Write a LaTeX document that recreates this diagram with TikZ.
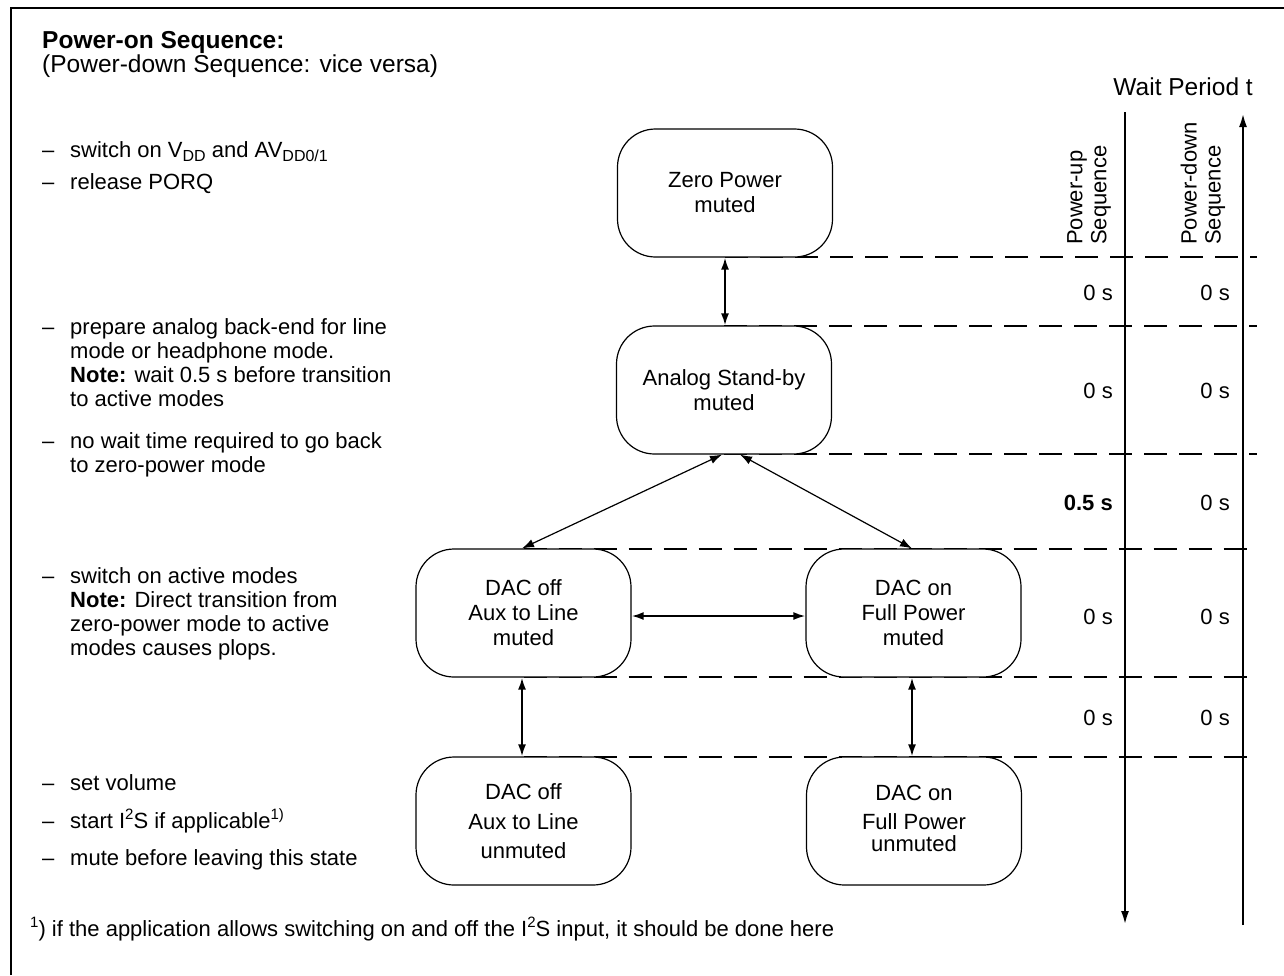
\documentclass[tikz,border=0pt]{standalone}
\usepackage{fontspec}
\setmainfont{Liberation Sans}
\usetikzlibrary{arrows.meta,calc}
\newcommand\sbs[1]{\raisebox{-4.5pt}{\fontsize{16}{16}\selectfont #1}}
\newcommand\sps[1]{\raisebox{8.5pt}{\fontsize{15}{15}\selectfont #1}}
\begin{document}
\begin{tikzpicture}[x=1pt,y=-1pt,
  box/.style={draw,line width=1.2pt,rounded corners=38pt,minimum width=215pt,minimum height=128pt,align=center,fill=white,inner sep=0pt,font=\fontsize{22}{25}\selectfont},
  lt/.style={anchor=base west,inner sep=0pt,font=\fontsize{22}{24}\selectfont},
  hd/.style={anchor=base west,inner sep=0pt,font=\fontsize{24.5}{27}\selectfont},
  dl/.style={dash pattern=on 23pt off 12pt,line width=1.2pt},
  tarr/.style={{Latex[length=12pt,width=8pt]}-{Latex[length=12pt,width=8pt]},line width=2pt},
  narr/.style={{Latex[length=12pt,width=8.5pt]}-{Latex[length=12pt,width=8.5pt]},line width=1.2pt},
  taxis/.style={line width=2.5pt,-{Latex[length=14pt,width=8pt]}},
  tv/.style={anchor=base east,inner sep=0pt,font=\fontsize{22}{24}\selectfont},
  rl/.style={rotate=90,anchor=west,align=left,inner sep=0pt,font=\fontsize{22}{24}\selectfont},
]
\useasboundingbox (0,0) rectangle (1284,975);
% frame (top and left)
\draw[line width=2pt] (11,975) -- (11,8) -- (1284,8);

% coordinates
\coordinate (R) at (1257,0);

% box centres
\path (725,193) coordinate (czp);
\path (724,390) coordinate (can);
\path (523.5,613) coordinate (coffm);
\path (913.5,613) coordinate (conm);
\path (523.5,821) coordinate (coffu);
\path (914,821) coordinate (conu);

% dashed level lines (drawn under boxes)
\path (czp) ++(0,64) coordinate (l1);
\path (can) ++(0,-64) coordinate (l2);
\path (can) ++(0,64) coordinate (l3);
\path (coffm) ++(0,-64) coordinate (l4);
\path (coffm) ++(0,64) coordinate (l5);
\path (coffu) ++(0,-64) coordinate (l6);
\foreach \l in {l1,l2,l3,l4,l5,l6}{\draw[dl] (\l) -- (\l -| R);}

% time axes
\coordinate (d1) at (1125,112); \coordinate (d2) at (1125,925);
\coordinate (u1) at (1243,925); \coordinate (u2) at (1243,113);
\draw[taxis] (d1) -- (d2);
\draw[taxis] (u1) -- (u2);

% state boxes
\node[box] (zp) at (czp) {Zero Power\\muted};
\node[box] (an) at (can) {Analog Stand-by\\muted};
\node[box] (offm) at (coffm) {DAC off\\Aux to Line\\muted};
\node[box] (onm) at (conm) {DAC on\\Full Power\\muted};
\node[box] (offu) at (coffu) {DAC off\\[5pt]Aux to Line\\[4pt]unmuted};
\node[box] (onu) at (conu) {DAC on\\[4pt]Full Power\\[-3pt]unmuted\rule[-5pt]{0pt}{0pt}};

% transitions
\draw[tarr] (zp.south) -- (zp.south |- an.north);
\draw[narr] ($(an.south)+(-2,0)$) -- ($(offm.north)+(-1.5,0)$);
\draw[narr] ($(an.south)+(16,0)$) -- ($(onm.north)+(-1.5,0)$);
\draw[tarr] ($(offm.east)+(0,3)$) -- ($(onm.west)+(0,3)$);
\draw[tarr] ($(offm.south)+(-1.5,0)$) -- ($(offu.north)+(-1.5,0)$);
\draw[tarr] ($(onm.south)+(-1.5,0)$) -- ($(onm.south |- onu.north)+(-1.5,0)$);

% headings
\node[hd,font=\fontsize{24.5}{27}\selectfont\bfseries] (h1) at (42,48) {Power-on Sequence:};
\node[hd] (h2) at (42,72) {(Power-down Sequence: vice versa)};
\node[anchor=base east,inner sep=0pt,font=\fontsize{24.5}{27}\selectfont] (wp) at (1253,95) {Wait Period t};

% column labels
\node[rl] (pu) at (1089,245) {Power-up\\Sequence};
\node[rl] (pd) at (1203,245) {Power-down\\Sequence};

% wait times
\foreach \y/\a/\b in {300/0 s/0 s,398/0 s/0 s,624/0 s/0 s,725/0 s/0 s}{
  \node[tv] at (1113,\y) {\a};
  \node[tv] at (1230,\y) {\b};
}
\node[tv] (t3a) at (1113,510) {\textbf{0.5 s}};
\node[tv] (t3b) at (1230,510) {0 s};

% left notes
\node[lt] (a1) at (42,157) {\textendash};
\node[lt] (b1) at (70,157) {switch on V\sbs{DD} and AV\sbs{DD0/1}};
\node[lt] (a2) at (42,189) {\textendash};
\node[lt] (b2) at (70,189) {release PORQ};

\node[lt] (a3) at (42,334) {\textendash};
\node[lt] (b3) at (70,334) {\parbox[t]{340pt}{\fontsize{22}{24}\selectfont prepare analog back-end for line\\mode or headphone mode.\\\textbf{Note:} wait 0.5 s before transition\\to active modes}};
\node[lt] (a4) at (42,448) {\textendash};
\node[lt] (b4) at (70,448) {\parbox[t]{340pt}{\fontsize{22}{24}\selectfont no wait time required to go back\\to zero-power mode}};
\node[lt] (a5) at (42,583) {\textendash};
\node[lt] (b5) at (70,583) {\parbox[t]{340pt}{\fontsize{22}{24}\selectfont switch on active modes\\\textbf{Note:} Direct transition from\\zero-power mode to active\\modes causes plops.}};

\node[lt] (a6) at (42,790) {\textendash};
\node[lt] (b6) at (70,790) {set volume};
\node[lt] (a7) at (42,828) {\textendash};
\node[lt] (b7) at (70,828) {start I\sps{2}S if applicable\sps{1)}};
\node[lt] (a8) at (42,865) {\textendash};
\node[lt] (b8) at (70,865) {mute before leaving this state};

% footnote
\node[lt] (fn) at (30,936) {\sps{1}) if the application allows switching on and off the I\sps{2}S input, it should be done here};
\end{tikzpicture}
\end{document}
